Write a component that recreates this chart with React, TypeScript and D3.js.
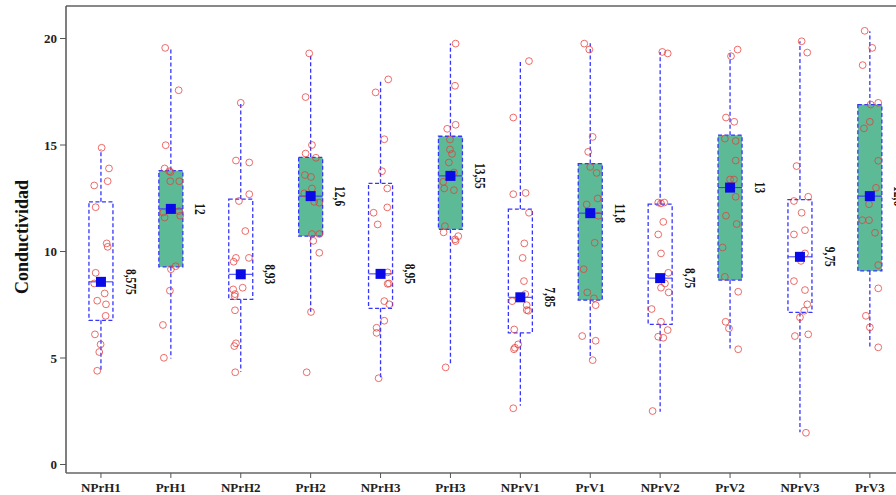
import React, { useEffect, useRef } from "react";
import * as d3 from "d3";

const categories = ["NPrH1", "PrH1", "NPrH2", "PrH2", "NPrH3", "PrH3", "NPrV1", "PrV1", "NPrV2", "PrV2", "NPrV3", "PrV3"];
const whiskerLow = [4.4, 4.98, 4.36, 7.17, 4.05, 4.64, 2.76, 4.95, 2.48, 5.45, 1.51, 5.5];
const q1 = [6.77, 9.28, 7.75, 10.72, 7.33, 11.04, 6.18, 7.72, 6.58, 8.66, 7.14, 9.09];
const medians = [8.575, 12, 8.93, 12.6, 8.95, 13.55, 7.85, 11.8, 8.75, 13, 9.75, 12.6];
const q3 = [12.33, 13.8, 12.46, 14.42, 13.2, 15.41, 11.99, 14.13, 12.22, 15.46, 12.44, 16.9];
const whiskerHigh = [14.8, 19.56, 16.98, 19.25, 18.08, 19.76, 18.94, 19.78, 19.37, 19.45, 19.87, 20.34];
const yTicks = [0, 5, 10, 15, 20];

// [value, jitter] jitter is a fraction of the box half width
const observations: number[][][] = [
  [[14.87, 0.06], [13.9, 0.67], [13.1, -0.56], [13.3, 0.56], [12.08, -0.44], [10.38, 0.48], [10.22, 0.56], [9.0, -0.44], [8.5, -0.56], [8.03, 0.31], [7.69, -0.31], [7.52, 0.42], [6.98, 0.39], [6.11, -0.5], [5.64, -0.03], [5.28, -0.14], [4.4, -0.31]],
  [[19.56, -0.47], [17.57, 0.65], [14.99, -0.43], [13.9, -0.52], [13.77, -0.13], [13.73, -0.02], [13.3, -0.05], [13.3, 0.7], [11.83, -0.63], [11.6, -0.52], [11.68, 0.78], [11.9, 0.68], [9.17, 0.01], [9.31, 0.4], [8.16, -0.08], [6.55, -0.66], [5.01, -0.58]],
  [[16.98, 0], [14.27, -0.4], [14.18, 0.71], [12.69, 0.71], [12.37, -0.15], [10.96, 0.38], [9.7, -0.4], [9.7, 0.68], [9.52, -0.59], [8.3, 0.16], [8.22, -0.63], [8.0, -0.48], [7.9, -0.51], [7.24, -0.48], [5.69, -0.4], [5.56, -0.54], [4.33, -0.46]],
  [[19.3, -0.12], [17.25, -0.42], [15.0, 0.11], [14.6, -0.42], [14.4, 0.44], [13.59, -0.48], [13.5, 0.03], [12.96, 0.11], [12.73, -0.53], [12.33, 0.3], [12.29, 0.72], [10.82, 0.11], [10.82, 0.72], [10.5, 0.22], [9.94, 0.72], [7.16, 0.03], [4.33, -0.33]],
  [[18.08, 0.64], [17.47, -0.41], [15.27, 0.31], [13.77, 0.12], [12.96, 0.56], [12.07, 0.56], [11.82, -0.58], [11.27, -0.24], [9.02, 0.59], [8.48, 0.59], [8.5, 0.7], [7.67, 0.31], [7.52, 0.73], [6.75, 0.31], [6.42, -0.33], [6.18, -0.33], [4.05, -0.16]],
  [[19.76, 0.43], [17.78, 0.38], [15.95, 0.43], [15.76, -0.27], [15.26, -0.04], [14.79, -0.04], [14.58, 0.13], [14.18, -0.13], [13.71, 0.29], [13.27, -0.6], [12.96, -0.52], [12.88, 0.29], [11.19, -0.46], [10.9, -0.57], [10.72, 0.65], [10.57, 0.38], [10.49, 0.43], [4.56, -0.4]],
  [[18.94, 0.72], [16.29, -0.59], [12.75, 0.44], [12.69, -0.59], [11.82, 0.72], [10.38, 0.33], [9.7, 0.19], [8.61, 0.3], [8.0, 0.41], [7.67, -0.68], [7.48, 0.53], [7.25, 0.53], [7.22, 0.66], [6.34, -0.51], [5.64, -0.18], [5.48, -0.45], [5.41, -0.53], [2.64, -0.59]],
  [[19.76, -0.5], [19.48, -0.08], [15.38, 0.2], [14.68, -0.17], [13.97, 0], [13.69, 0.53], [12.49, 0.62], [12.21, -0.3], [11.68, 0.67], [10.41, 0.37], [9.17, -0.55], [8.08, -0.25], [7.8, 0.31], [7.48, 0.45], [6.03, -0.67], [5.81, 0.45], [4.9, 0.2]],
  [[19.37, 0.18], [19.3, 0.63], [12.3, -0.16], [12.26, 0.07], [12.3, 0.34], [11.39, 0.26], [10.8, -0.16], [9.91, 0.07], [9.0, 0.68], [8.5, 0.4], [8.3, 0.07], [8.08, 0.71], [7.3, -0.71], [6.7, 0.07], [6.31, 0.63], [6.0, -0.16], [5.95, 0.26], [2.51, -0.63]],
  [[19.48, 0.63], [19.17, 0.08], [16.29, -0.34], [16.09, 0.35], [15.3, -0.43], [15.19, 0.47], [14.27, 0.47], [13.38, 0], [13.38, 0.33], [12.57, 0.47], [11.68, -0.34], [11.29, 0.55], [10.19, -0.62], [8.81, -0.43], [8.11, 0.68], [6.7, -0.37], [6.39, -0.09], [5.41, 0.68]],
  [[19.87, 0.14], [19.34, 0.61], [14.01, -0.28], [12.57, 0.69], [12.37, -0.5], [11.82, 0.14], [11.0, 0.42], [10.8, -0.5], [9.91, 0.42], [9.56, 0.08], [8.61, -0.5], [8.19, 0.42], [7.52, 0.61], [7.22, 0.36], [6.91, 0], [6.11, 0.69], [6.03, -0.42], [1.49, 0.5]],
  [[20.36, -0.43], [19.56, 0.2], [18.75, -0.6], [16.98, 0.7], [16.9, 0.07], [16.09, 0], [15.78, -0.49], [14.26, 0.7], [12.99, 0.51], [12.22, -0.07], [11.47, -0.63], [11.47, -0.07], [10.88, 0.43], [9.36, 0.7], [8.27, 0.7], [6.98, -0.33], [6.44, 0], [5.5, 0.7]],
];

const W = 896;
const H = 495;
const FONT = "'Liberation Serif', 'Times New Roman', serif";

export default function App() {
  const ref = useRef<SVGSVGElement>(null);

  useEffect(() => {
    const svg = d3.select(ref.current);
    svg.selectAll("*").remove();

    const left = 66, top = 6, bottom = 473;
    const x = d3.scaleBand().domain(categories).range([left, left + 12 * 69.9]).padding(0);
    const y = d3.scaleLinear().domain([0, 20]).range([464.5, 38.5]);
    const cx = (i: number) => (x(categories[i]) as number) + x.bandwidth() / 2;
    const halfBox = 12;
    const blue = "#3535ff";

    // frame
    svg.append("line").attr("x1", left).attr("x2", W).attr("y1", top).attr("y2", top)
      .attr("stroke", "#888").attr("stroke-width", 2);

    const g = svg.append("g");

    categories.forEach((c, i) => {
      const xc = cx(i);
      const isPr = c.startsWith("Pr");
      // whiskers
      g.append("line").attr("x1", xc).attr("x2", xc).attr("y1", y(q3[i])).attr("y2", y(whiskerHigh[i]))
        .attr("stroke", blue).attr("stroke-width", 1.3).attr("stroke-dasharray", "4,2.5");
      g.append("line").attr("x1", xc).attr("x2", xc).attr("y1", y(q1[i])).attr("y2", y(whiskerLow[i]))
        .attr("stroke", blue).attr("stroke-width", 1.3).attr("stroke-dasharray", "4,2.5");
      // box
      g.append("rect").attr("x", xc - halfBox).attr("width", halfBox * 2)
        .attr("y", y(q3[i])).attr("height", y(q1[i]) - y(q3[i]))
        .attr("fill", isPr ? "#5cba96" : "none")
        .attr("stroke", blue).attr("stroke-width", 1.3).attr("stroke-dasharray", "4,2.5");
      // median line
      g.append("line").attr("x1", xc - halfBox).attr("x2", xc + halfBox)
        .attr("y1", y(medians[i])).attr("y2", y(medians[i]))
        .attr("stroke", blue).attr("stroke-width", 1);
      // points
      g.selectAll(null).data(observations[i]).enter().append("circle")
        .attr("cx", (d) => xc + d[1] * halfBox)
        .attr("cy", (d) => y(d[0]))
        .attr("r", 3.4)
        .attr("fill", "none")
        .attr("stroke", "#e53c38")
        .attr("stroke-opacity", 0.75)
        .attr("stroke-width", 1);
      // median marker
      g.append("rect").attr("x", xc - 5).attr("y", y(medians[i]) - 5).attr("width", 10).attr("height", 10)
        .attr("fill", "#0a0ae6");
      // median label
      g.append("text")
        .attr("transform", `translate(${xc + 29},${y(medians[i])}) rotate(90) scale(0.82,1)`)
        .attr("text-anchor", "middle").attr("dominant-baseline", "central")
        .attr("font-family", FONT).attr("font-weight", "bold").attr("font-size", 14).attr("fill", "#111")
        .text(String(medians[i]).replace(".", ","));
    });

    // y axis
    const ya = svg.append("g");
    ya.append("line").attr("x1", left).attr("x2", left).attr("y1", top).attr("y2", bottom)
      .attr("stroke", "#555").attr("stroke-width", 1.5);
    yTicks.forEach((t) => {
      ya.append("line").attr("x1", left - 6).attr("x2", left).attr("y1", y(t)).attr("y2", y(t))
        .attr("stroke", "#555").attr("stroke-width", 1);
      ya.append("text").attr("x", left - 9).attr("y", y(t)).attr("dy", "0.35em")
        .attr("text-anchor", "end").attr("font-family", FONT).attr("font-weight", "bold")
        .attr("font-size", 13).attr("fill", "#222").text(t);
    });
    ya.append("text")
      .attr("transform", `translate(28,237) rotate(-90)`)
      .attr("text-anchor", "middle")
      .attr("font-family", FONT).attr("font-weight", "bold").attr("font-size", 18).attr("fill", "#111")
      .text("Conductividad");

    // x axis
    const xa = svg.append("g");
    xa.append("line").attr("x1", left).attr("x2", W).attr("y1", bottom).attr("y2", bottom)
      .attr("stroke", "#666").attr("stroke-width", 1.5);
    categories.forEach((c, i) => {
      xa.append("line").attr("x1", cx(i)).attr("x2", cx(i)).attr("y1", bottom).attr("y2", bottom + 5)
        .attr("stroke", "#555").attr("stroke-width", 1);
      xa.append("text").attr("x", cx(i)).attr("y", 492).attr("text-anchor", "middle")
        .attr("font-family", FONT).attr("font-weight", "bold").attr("font-size", 13).attr("fill", "#222")
        .text(c);
    });
  }, []);

  return (
    <svg ref={ref} width={W} height={H}
      style={{ position: "absolute", left: 0, top: 0, background: "#fff" }} />
  );
}
